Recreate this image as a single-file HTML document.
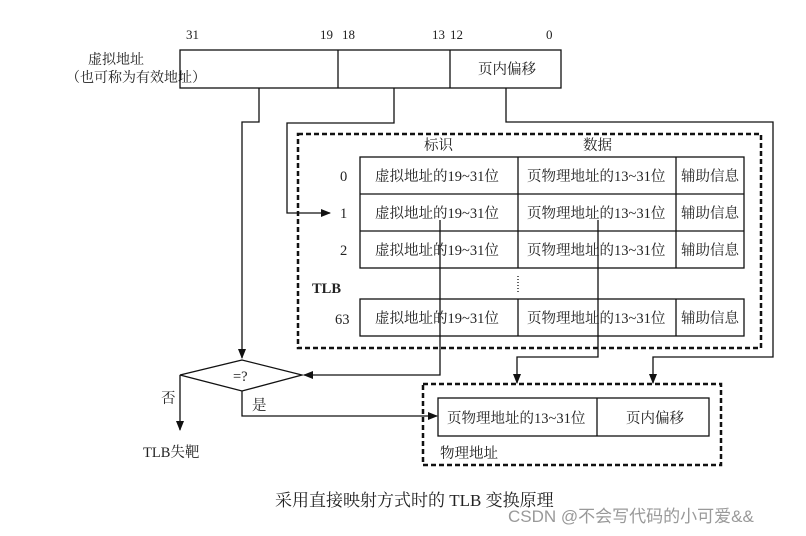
<!DOCTYPE html>
<html><head><meta charset="utf-8"><style>
body{margin:0;background:#fff;}
text{font-family:"Liberation Serif","Noto Serif CJK SC",serif;fill:#222;}
</style></head><body>
<svg width="806" height="531" xmlns="http://www.w3.org/2000/svg">
<defs><marker id="a" markerWidth="10" markerHeight="8" refX="9" refY="4" orient="auto" markerUnits="userSpaceOnUse"><path d="M0,0 L10,4 L0,8z" fill="#111"/></marker></defs>
<g font-size="13">
<text x="186" y="39">31</text><text x="320" y="39">19</text><text x="342" y="39">18</text>
<text x="432" y="39">13</text><text x="450" y="39">12</text><text x="546" y="39">0</text>
</g>
<g font-size="14">
<text x="88" y="64">虚拟地址</text><text x="66" y="82">（也可称为有效地址）</text>
</g>
<g fill="none" stroke="#111" stroke-width="1.3">
<rect x="180" y="50" width="381" height="38"/>
<line x1="338" y1="50" x2="338" y2="88"/><line x1="450" y1="50" x2="450" y2="88"/>
<polyline points="259,88 259,122 242,122 242,358" marker-end="url(#a)"/>
<polyline points="394,88 394,123 287,123 287,213 330,213" marker-end="url(#a)"/>
<polyline points="506,88 506,122 773,122 773,357 653,357 653,383" marker-end="url(#a)"/>
<rect x="298" y="134" width="463" height="214" stroke-dasharray="5,3" stroke-width="2.5"/>
<rect x="360" y="157" width="384" height="111"/>
<line x1="360" y1="194" x2="744" y2="194"/><line x1="360" y1="231" x2="744" y2="231"/>
<line x1="518" y1="157" x2="518" y2="268"/><line x1="676" y1="157" x2="676" y2="268"/>
<rect x="360" y="299" width="384" height="37"/>
<line x1="518" y1="299" x2="518" y2="336"/><line x1="676" y1="299" x2="676" y2="336"/>
<line x1="518" y1="276" x2="518" y2="293" stroke-dasharray="1,2"/>
<polyline points="440,220 440,375 304,375" marker-end="url(#a)"/>
<polyline points="598,220 598,357 517,357 517,383" marker-end="url(#a)"/>
<polygon points="242,360 180,375 242,391 302,375"/>
<polyline points="242,391 242,416 437,416" marker-end="url(#a)"/>
<polyline points="180,375 180,430" marker-end="url(#a)"/>
<rect x="423" y="384" width="298" height="81" stroke-dasharray="5,3" stroke-width="2.5"/>
<rect x="438" y="398" width="271" height="38"/>
<line x1="597" y1="398" x2="597" y2="436"/>
</g>
<g font-size="14.5">
<text x="478" y="74">页内偏移</text>
<text x="424" y="150">标识</text><text x="583" y="150">数据</text>
<text x="340" y="181">0</text><text x="340" y="218">1</text><text x="340" y="255">2</text><text x="335" y="324">63</text>
<text x="312" y="293" font-weight="bold">TLB</text>
<text x="375" y="181">虚拟地址的19~31位</text><text x="527" y="181">页物理地址的13~31位</text><text x="681" y="181">辅助信息</text>
<text x="375" y="218">虚拟地址的19~31位</text><text x="527" y="218">页物理地址的13~31位</text><text x="681" y="218">辅助信息</text>
<text x="375" y="255">虚拟地址的19~31位</text><text x="527" y="255">页物理地址的13~31位</text><text x="681" y="255">辅助信息</text>
<text x="375" y="323">虚拟地址的19~31位</text><text x="527" y="323">页物理地址的13~31位</text><text x="681" y="323">辅助信息</text>
<text x="233" y="381">=?</text>
<text x="161" y="403">否</text><text x="252" y="410">是</text>
<text x="143" y="457">TLB失靶</text>
<text x="447" y="423">页物理地址的13~31位</text><text x="626" y="423">页内偏移</text>
<text x="440" y="458">物理地址</text>
<text x="275" y="506" font-size="17">采用直接映射方式时的 TLB 变换原理</text>
</g>
<text x="508" y="522" font-size="17" style="font-family:'Liberation Sans','Noto Sans CJK SC',sans-serif;fill:#999">CSDN @不会写代码的小可爱&amp;&amp;</text>
</svg>
</body></html>
